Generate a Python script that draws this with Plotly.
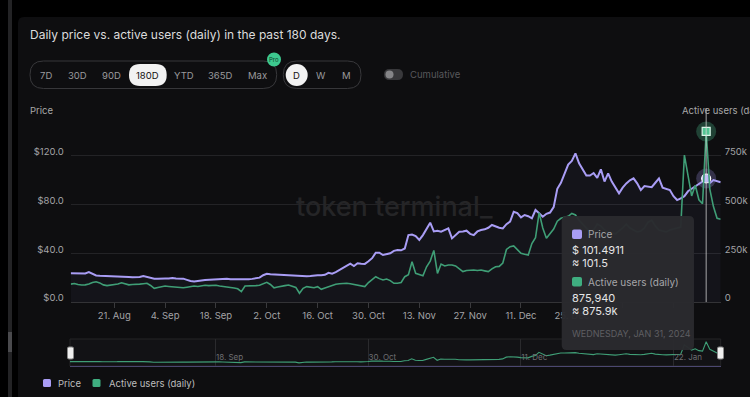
import pandas as pd
import plotly.graph_objects as go

W, H = 750, 397
FONT = "Inter, Noto Sans, sans-serif"

# ---------------- data ----------------
start_date = "2023-08-09"
n_days = 180
price = [
    23.6, 23.6, 23.5, 23.7, 23.5, 24.6, 23.5, 21.8, 21.5, 21.4,
    21.6, 21.2, 21.4, 21.5, 21.2, 20.8, 20.6, 20.3, 20.4, 20.5,
    21.4, 20.6, 19.5, 19.2, 19.2, 19.0, 19.3, 19.4, 19.8, 19.3,
    19.0, 19.2, 18.2, 17.2, 16.9, 17.0, 17.6, 18.0, 18.2, 18.1,
    18.4, 19.0, 19.3, 19.2, 18.7, 18.6, 18.5, 18.6, 18.5, 18.7,
    19.0, 19.4, 20.0, 22.0, 23.2, 22.8, 22.6, 22.4, 22.6, 22.5,
    22.2, 21.8, 22.0, 21.6, 21.3, 21.2, 21.3, 21.8, 22.0, 22.0,
    22.3, 24.0, 23.3, 24.5, 26.3, 28.5, 29.8, 31.5, 29.6, 31.8,
    31.5, 31.3, 33.5, 36.0, 40.5, 40.5, 38.6, 39.5, 40.0, 42.0,
    42.7, 42.5, 44.0, 55.0, 55.5, 54.2, 51.0, 55.0, 60.0, 65.2,
    58.0, 58.6, 57.8, 59.0, 60.5, 52.3, 55.0, 57.8, 58.0, 58.6,
    56.0, 55.0, 58.0, 59.2, 59.7, 61.0, 63.3, 61.9, 61.0, 60.5,
    64.0, 66.0, 74.2, 73.0, 69.6, 71.5, 70.5, 68.8, 75.6, 73.0,
    70.1, 72.5, 73.5, 78.0, 93.0, 98.0, 106.0, 113.0, 116.0, 122.2,
    114.0, 109.0, 104.0, 104.0, 106.0, 102.0, 109.0, 99.0, 105.7, 99.0,
    94.0, 89.3, 94.0, 97.5, 100.0, 101.6, 97.5, 92.0, 95.3, 94.8,
    94.4, 98.0, 101.6, 94.0, 93.0, 92.0, 87.0, 83.8, 85.2, 87.0,
    91.0, 93.0, 94.7, 96.5, 99.0, 101.4911, 97.8, 100.2, 99.5, 98.4,
]
users_k = [
    92, 95, 90, 87, 88, 92, 100, 104, 98, 88,
    84, 86, 88, 92, 99, 92, 88, 90, 90, 92,
    94, 96, 85, 70, 74, 78, 82, 80, 78, 76,
    75, 73, 76, 80, 82, 80, 84, 86, 84, 84,
    86, 82, 80, 78, 75, 72, 68, 53, 82, 82,
    82, 84, 86, 92, 101, 90, 73, 77, 79, 84,
    87, 80, 75, 45, 70, 79, 75, 73, 79, 65,
    72, 79, 85, 91, 94, 96, 96, 94, 91, 88,
    82, 79, 100, 115, 130, 120, 113, 118, 110, 96,
    96, 100, 130, 140, 207, 147, 140, 135, 181, 210,
    265, 147, 195, 185, 190, 190, 185, 170, 156, 162,
    164, 164, 162, 164, 160, 156, 170, 181, 183, 200,
    270, 284, 288, 270, 250, 245, 241, 300, 330, 459,
    380, 327, 350, 375, 415, 430, 435, 440, 455, 447,
    420, 400, 380, 360, 370, 400, 390, 370, 360, 355,
    350, 365, 380, 400, 380, 370, 360, 365, 380, 410,
    420, 390, 370, 365, 360, 370, 375, 380, 385, 755,
    640, 545, 600, 525, 505, 875.94, 580, 490, 430, 425,
]
hover_date = "2024-01-31"
hover_price = 101.4911
hover_users = 875940
hover_label = "WEDNESDAY, JAN 31, 2024"

price_ticks = [0, 40, 80, 120]
price_ticktext = ["$0.0", "$40.0", "$80.0", "$120.0"]
users_ticks = [0, 250000, 500000, 750000]
users_ticktext = ["0", "250k", "500k", "750k"]
# the last two date labels sit fully behind the tooltip in the reference
x_tickdates = ["2023-08-21", "2023-09-04", "2023-09-18", "2023-10-02", "2023-10-16",
               "2023-10-30", "2023-11-13", "2023-11-27", "2023-12-11", "2023-12-25",
               "2024-01-08", "2024-01-22"]
x_ticktext = ["21. Aug", "4. Sep", "18. Sep", "2. Oct", "16. Oct", "30. Oct",
              "13. Nov", "27. Nov", "11. Dec", "25. Dec", "", ""]
nav_tickdates = ["2023-09-18", "2023-10-30", "2023-12-11", "2024-01-22"]
nav_ticktext = ["18. Sep", "30. Oct", "11. Dec", "22. Jan"]
range_buttons = ["7D", "30D", "90D", "180D", "YTD", "365D", "Max"]
range_centers = [45.7, 77, 111, 147.7, 184, 220.7, 257.3]
freq_buttons = ["D", "W", "M"]
freq_centers = [296.7, 321, 346.7]

title_text = "Daily price vs. active users (daily) in the past 180 days."
watermark = "token terminal_"
series_names = ["Price", "Active users (daily)"]

PURPLE = "#a99df5"
GREEN = "#3f9e76"
GREEN_LEG = "#3fae80"

dates = pd.date_range(start_date, periods=n_days, freq="D")
users = [v * 1000 for v in users_k]


# ---------------- helpers ----------------
def px(x):
    return x / W


def py(y):
    return 1 - y / H


def P(x, y):
    return f"{px(x):.5f},{py(y):.5f}"


def rr(x0, y0, x1, y1, r, fill, line=None, lw=0, layer="below"):
    path = (f"M {P(x0 + r, y0)} L {P(x1 - r, y0)} Q {P(x1, y0)} {P(x1, y0 + r)} "
            f"L {P(x1, y1 - r)} Q {P(x1, y1)} {P(x1 - r, y1)} L {P(x0 + r, y1)} "
            f"Q {P(x0, y1)} {P(x0, y1 - r)} L {P(x0, y0 + r)} Q {P(x0, y0)} {P(x0 + r, y0)} Z")
    return dict(type="path", path=path, xref="paper", yref="paper",
                fillcolor=fill, line=dict(color=line or "rgba(0,0,0,0)", width=lw),
                layer=layer)


def circ(cx, cy, r, fill, layer="below"):
    return dict(type="circle", xref="paper", yref="paper",
                x0=px(cx - r), x1=px(cx + r), y0=py(cy + r), y1=py(cy - r),
                fillcolor=fill, line=dict(width=0), layer=layer)


def txt(s, x, y, size, color, anchor="left", weight=None):
    f = dict(size=size, color=color, family=FONT)
    if weight:
        f["weight"] = weight
    return dict(text=s, x=px(x), y=py(y), xref="paper", yref="paper",
                xanchor=anchor, yanchor="middle", showarrow=False, font=f,
                borderpad=0)


# ---------------- traces ----------------
fig = go.Figure()
fig.add_trace(go.Scatter(x=dates, y=price, mode="lines", name=series_names[0],
                         line=dict(color=PURPLE, width=2), fill="tozeroy",
                         fillcolor="rgba(170,160,255,0.045)", yaxis="y", xaxis="x",
                         showlegend=False, hoverinfo="skip"))
fig.add_trace(go.Scatter(x=dates, y=users, mode="lines", name=series_names[1],
                         line=dict(color=GREEN, width=1.6), yaxis="y2", xaxis="x",
                         showlegend=False, hoverinfo="skip"))
# hover markers
fig.add_trace(go.Scatter(x=[hover_date], y=[hover_price], mode="markers", yaxis="y",
                         marker=dict(size=20, color="rgba(169,157,245,0.25)"),
                         showlegend=False, hoverinfo="skip"))
fig.add_trace(go.Scatter(x=[hover_date], y=[hover_price], mode="markers", yaxis="y",
                         marker=dict(size=9, color="#bdb5ff", line=dict(color="#ffffff", width=1.2)),
                         showlegend=False, hoverinfo="skip"))
fig.add_trace(go.Scatter(x=[hover_date], y=[hover_users], mode="markers", yaxis="y2",
                         marker=dict(size=20, color="rgba(80,200,150,0.28)"),
                         showlegend=False, hoverinfo="skip"))
fig.add_trace(go.Scatter(x=[hover_date], y=[hover_users], mode="markers", yaxis="y2",
                         marker=dict(size=8, symbol="square", color="#52c493",
                                     line=dict(color="#d9f5e8", width=1.2)),
                         showlegend=False, hoverinfo="skip"))
# navigator
fig.add_trace(go.Scatter(x=dates, y=users, mode="lines", line=dict(color=GREEN, width=1.1),
                         xaxis="x2", yaxis="y3", showlegend=False, hoverinfo="skip"))

# ---------------- shapes ----------------
shapes = []
shapes.append(dict(type="rect", xref="paper", yref="paper", x0=px(8), x1=px(12), y0=0, y1=1,
                   fillcolor="#232325", line=dict(width=0), layer="below"))
shapes.append(dict(type="rect", xref="paper", yref="paper", x0=px(8), x1=px(12),
                   y0=py(352), y1=py(332), fillcolor="#4a4a4d", line=dict(width=0), layer="below"))
shapes.append(rr(18, 17, 760, 410, 6, "#0e0e10"))
# buttons
shapes.append(rr(30, 61, 276.7, 88.5, 13.5, "rgba(0,0,0,0)", "#38383b", 1))
shapes.append(rr(129, 64, 166.7, 86, 11, "#f2f2f2"))
shapes.append(circ(274, 59.5, 7, "#3dc98f"))
shapes.append(rr(283.3, 61, 361, 88.5, 13.5, "rgba(0,0,0,0)", "#38383b", 1))
shapes.append(circ(296.7, 75, 11, "#f2f2f2"))
shapes.append(rr(384, 69, 403, 80, 5.5, "#38383b"))
shapes.append(circ(389.5, 74.5, 4, "#858588"))
# navigator background
shapes.append(dict(type="rect", xref="paper", yref="paper", x0=px(70), x1=px(720.7),
                   y0=py(366), y1=py(339), fillcolor="#121215",
                   line=dict(color="#242427", width=1), layer="below"))
# hover line
shapes.append(dict(type="line", xref="x", yref="paper", x0=hover_date, x1=hover_date,
                   y0=py(302), y1=py(108), line=dict(color="rgba(215,215,215,0.75)", width=1),
                   layer="above"))
# nav handles
shapes.append(rr(67.5, 347, 73.5, 359, 1.5, "#efefef", "#8a8a8a", 1, layer="above"))
shapes.append(rr(717.5, 347, 723.5, 359, 1.5, "#efefef", "#8a8a8a", 1, layer="above"))
# legend swatches
shapes.append(rr(43, 379, 51, 387, 1.5, PURPLE, layer="above"))
shapes.append(rr(92.5, 379, 100.5, 387, 1.5, GREEN_LEG, layer="above"))
# tooltip
shapes.append(rr(561.7, 216, 694, 350, 5, "rgba(42,42,46,0.97)", layer="above"))
shapes.append(rr(572, 229.5, 582, 239, 2, PURPLE, layer="above"))
shapes.append(rr(572, 277, 582, 286.5, 2, GREEN_LEG, layer="above"))

# ---------------- annotations ----------------
ann = []
ann.append(txt(title_text, 29.3, 35, 12, "#dcdcdc"))
for lab, cx in zip(range_buttons, range_centers):
    ann.append(txt(lab, cx, 75, 9.5, "#111111" if lab == "180D" else "#9a9a9d", "center"))
ann.append(txt("Pro", 274, 59.5, 6, "#0d3d28", "center"))
for lab, cx in zip(freq_buttons, freq_centers):
    ann.append(txt(lab, cx, 75, 9.5, "#111111" if lab == "D" else "#9a9a9d", "center"))
ann.append(txt("Cumulative", 409, 74.5, 9.5, "#58585b"))
ann.append(txt("Price", 29, 110, 9.5, "#a8a8a8"))
ann.append(txt(series_names[1], 680.7, 110, 9.5, "#a8a8a8"))
ann.append(txt(watermark, 394, 206, 27, "#252527", "center", weight=500))
ann.append(txt(series_names[0], 57, 383.5, 9.5, "#bdbdbd"))
ann.append(txt(series_names[1], 107.5, 383.5, 9.5, "#bdbdbd"))
# tooltip text
ann.append(txt(series_names[0], 587, 234.5, 10, "#a6a6a9"))
ann.append(txt(f"$ {hover_price}", 571, 250, 11, "#e6e6e6"))
ann.append(txt(f"\u2248 {round(hover_price, 1)}", 571, 263, 11, "#e6e6e6"))
ann.append(txt(series_names[1], 587, 282, 10, "#a6a6a9"))
ann.append(txt(f"{hover_users:,}", 571, 297.5, 11, "#e6e6e6"))
ann.append(txt(f"\u2248 {hover_users / 1000:.1f}k", 571, 310.5, 11, "#e6e6e6"))
ann.append(txt(hover_label, 571, 333.5, 9, "#5e5e62"))

# ---------------- layout ----------------
xdom = [px(70.7), px(720.7)]
xrange = [dates[0], dates[-1]]
fig.update_layout(
    width=W, height=H, autosize=False,
    margin=dict(l=0, r=0, t=0, b=0, pad=0),
    paper_bgcolor="#000000", plot_bgcolor="rgba(0,0,0,0)",
    font=dict(family=FONT, color="#a5a5a5", size=9.5),
    showlegend=False,
    shapes=shapes, annotations=ann,
    xaxis=dict(domain=xdom, range=xrange, tickmode="array", tickvals=x_tickdates,
               ticktext=x_ticktext, showgrid=False, ticks="outside", ticklen=5,
               tickcolor="#3a3a3d", showline=True, linecolor="#333336", linewidth=1,
               tickfont=dict(size=9.5, color="#a3a3a6"), zeroline=False, anchor="y",
               fixedrange=True),
    yaxis=dict(domain=[py(302), py(110)], range=[0, 157.8], tickmode="array",
               tickvals=price_ticks, ticktext=price_ticktext, showgrid=True,
               gridcolor="#232326", gridwidth=1, zeroline=False, showline=False,
               ticks="", ticklabelstandoff=6, ticklabelshift=-4,
               tickfont=dict(size=9.5, color="#a3a3a6")),
    yaxis2=dict(overlaying="y", side="right", range=[0, 157.8 * 6250], tickmode="array",
                tickvals=users_ticks, ticktext=users_ticktext, showgrid=False,
                zeroline=False, showline=False, ticks="", ticklabelstandoff=3,
                ticklabelshift=-4, tickfont=dict(size=9.5, color="#a3a3a6"), anchor="x"),
    xaxis2=dict(domain=[px(70), px(720.7)], range=xrange, anchor="y3", tickmode="array",
                tickvals=nav_tickdates, ticktext=nav_ticktext, showgrid=True,
                gridcolor="#2a2a2d", ticks="", ticklabelposition="inside right",
                tickfont=dict(size=8, color="#6e6e72"), showline=True,
                linecolor="#4b4770", linewidth=1, zeroline=False),
    yaxis3=dict(domain=[py(366), py(339)], range=[-78000, 982000], anchor="x2",
                showgrid=False, showticklabels=False, zeroline=False, ticks=""),
)

fig.write_html(
    "out.html",
    config={"displayModeBar": False},
    post_script="document.body.style.margin='0';document.body.style.padding='0';"
                "document.body.style.overflow='hidden';",
)
